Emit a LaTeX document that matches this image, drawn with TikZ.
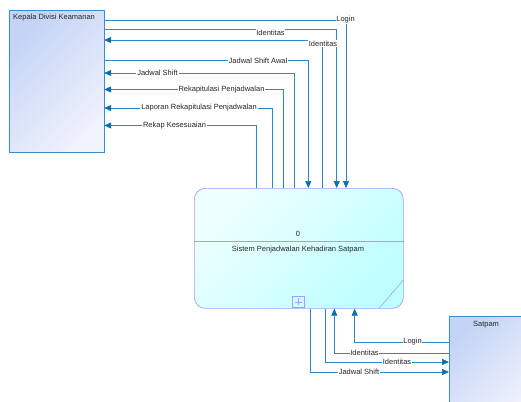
\documentclass[tikz,border=0pt]{standalone}
\usepackage{fontspec}
\setmainfont{Liberation Sans}
\usetikzlibrary{arrows.meta,calc}
\definecolor{linec}{RGB}{40,138,200}
\definecolor{arrc}{RGB}{10,110,175}
\definecolor{kbord}{RGB}{60,140,200}
\definecolor{kfillA}{RGB}{196,212,246}
\definecolor{kfillB}{RGB}{240,242,252}
\definecolor{pbord}{RGB}{160,160,250}
\definecolor{pfillA}{RGB}{238,255,255}
\definecolor{pfillB}{RGB}{190,255,255}
\begin{document}
\begin{tikzpicture}[x=1pt,y=-1pt,
  font=\fontsize{7.5}{8.5}\selectfont,
  flow/.style={draw=linec, line width=0.7pt},
  tip/.style={-{Triangle[length=7pt,width=6pt,color=arrc,fill=arrc]}},
  lbl/.style={fill=white, inner sep=0.8pt, text=black!85},
  kbox/.style={draw=kbord, line width=0.7pt, top color=kfillA, bottom color=kfillB, shading angle=45, inner sep=0},
  pbox/.style={draw=pbord, line width=0.7pt, rounded corners=11pt, top color=pfillA, bottom color=pfillB, shading angle=45, inner sep=0},
  txt/.style={text=black!85, inner sep=0}]
\clip (0,0) rectangle (521,401);
\fill[white] (0,0) rectangle (521,401);

% external entity: Kepala
\node[kbox, minimum width=95pt, minimum height=141pt, anchor=north west] (kepala) at (8.5,10.5) {};
\node[txt, anchor=west] (kepalaT) at (13,17.5) {Kepala Divisi Keamanan};

% process
\node[pbox, minimum width=209pt, minimum height=120pt, anchor=north west] (proc) at (194,188) {};
\draw[pbord, line width=0.7pt] (proc.west |- 0,241) -- (proc.east |- 0,241);
\node[txt] (pnum) at (298,234) {0};
\node[txt] (pname) at (298,249.5) {Sistem Penjadwalan Kehadiran Satpam};
\node[draw=pbord, line width=0.6pt, minimum size=11.5pt, inner sep=0, anchor=south] (plus) at (298.5,308) {};
\draw[pbord, line width=0.6pt] ($(plus.center)+(-3.5,0)$) -- ($(plus.center)+(3.5,0)$)
  ($(plus.center)+(0,-3.5)$) -- ($(plus.center)+(0,3.5)$);
\draw[pbord, line width=0.6pt] ($(proc.south east)+(-25,0)$) -- ($(proc.south east)+(0,-29)$);

% external entity: Satpam
\node[kbox, minimum width=85pt, minimum height=100pt, anchor=north west] (satpam) at (449,316) {};
\node[txt] (satpamT) at (486,324.5) {Satpam};

% flows Kepala <-> process
\draw[flow,tip] (kepala.east |- 0,20.5) -| (proc.north -| 346,0);
\node[lbl] (l1) at (345.5,19.5) {Login};
\draw[flow,tip] (kepala.east |- 0,29) -| (proc.north -| 336.7,0);
\node[lbl] (l2) at (270.5,32.5) {Identitas};
\draw[flow,tip] (proc.north -| 322.3,0) |- (kepala.east |- 0,40);
\node[lbl] (l3) at (323,43.5) {Identitas};
\draw[flow,tip] (kepala.east |- 0,60.5) -| (proc.north -| 308.3,0);
\node[lbl] (l4) at (258,61) {Jadwal Shift Awal};
\draw[flow,tip] (proc.north -| 294,0) |- (kepala.east |- 0,73);
\node[lbl] (l5) at (157.5,73) {Jadwal Shift};
\draw[flow,tip] (proc.north -| 283.3,0) |- (kepala.east |- 0,89.5);
\node[lbl] (l6) at (221.5,89.5) {Rekapitulasi Penjadwalan};
\draw[flow,tip] (proc.north -| 272.7,0) |- (kepala.east |- 0,108);
\node[lbl] (l7) at (199,108) {Laporan Rekapitulasi Penjadwalan};
\draw[flow,tip] (proc.north -| 256.7,0) |- (kepala.east |- 0,125.5);
\node[lbl] (l8) at (174.5,125.5) {Rekap Kesesuaian};

% flows Satpam <-> process
\draw[flow,tip] (satpam.west |- 0,342) -| (proc.south -| 354.7,0);
\node[lbl] (l9) at (412.5,342) {Login};
\draw[flow,tip] (satpam.west |- 0,353) -| (proc.south -| 334.3,0);
\node[lbl] (l10) at (364.5,353) {Identitas};
\draw[flow,tip] (proc.south -| 325.7,0) |- (satpam.west |- 0,362);
\node[lbl] (l11) at (397,362) {Identitas};
\draw[flow,tip] (proc.south -| 310.3,0) |- (satpam.west |- 0,372);
\node[lbl] (l12) at (359,372) {Jadwal Shift};
\end{tikzpicture}
\end{document}
